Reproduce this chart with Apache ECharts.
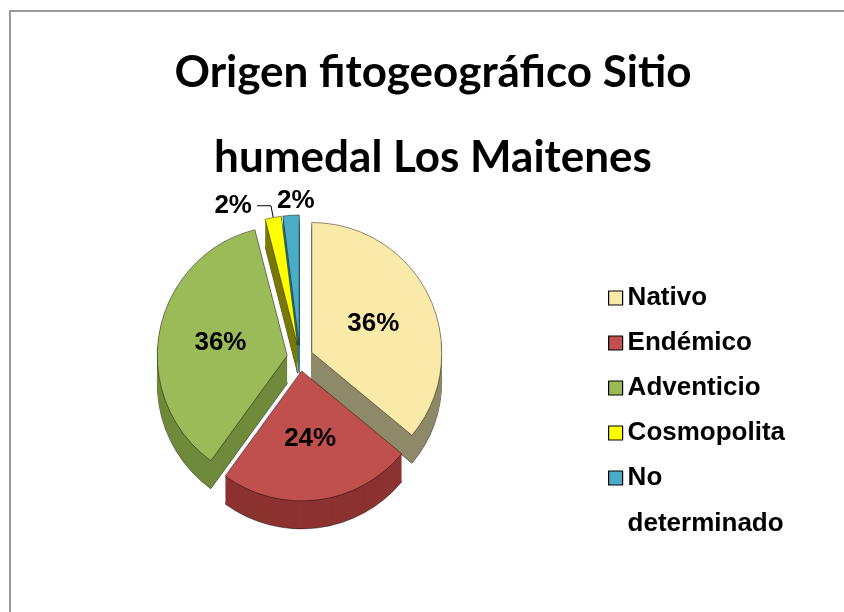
<!DOCTYPE html>
<html>
<head>
<meta charset="utf-8">
<script src="https://cdn.jsdelivr.net/npm/echarts@6/dist/echarts.min.js"></script>
<style>
  html, body { margin: 0; padding: 0; background: #fff; }
  #wrap { position: relative; width: 844px; height: 612px; overflow: hidden; }
  #frame { position: absolute; left: 9px; top: 10px; right: -10px; bottom: -10px;
           border-left: 2px solid #9a9a9a; border-top: 2px solid #9a9a9a; }
  #chart { position: absolute; left: 0; top: 0; width: 844px; height: 612px; }
</style>
</head>
<body>
<div id="wrap">
  <div id="frame"></div>
  <div id="chart"></div>
</div>
<script>
  // data (percent labels 36/24/36/2/2)
  const titleLines = ['Origen fitogeográfico Sitio', 'humedal Los Maitenes'];
  const categories = ['Nativo', 'Endémico', 'Adventicio', 'Cosmopolita', 'No determinado'];
  const counts = [18, 12, 18, 1, 1];

  const topColors = ['#F9EAAA', '#C0504D', '#9BBB59', '#FFFF00', '#4BACC6'];
  const sideColors = ['#8E8968', '#8C3230', '#6F8A3B', '#7A7A08', '#2D7B8F'];

  const cx = 300, cy = 358, radius = 130, depth = 28;
  const labelFont = { color: '#000', fontFamily: 'Liberation Sans, Arial', fontWeight: 'bold', fontSize: 26 };

  function sliceData(colors, withLabels) {
    return categories.map(function (name, i) {
      const item = { name: name, value: counts[i], selected: true, itemStyle: { color: colors[i] } };
      if (withLabels && i === 3) {
        item.label = { position: 'outside' };
        item.labelLine = { show: true, length: 12, length2: 14, lineStyle: { color: '#000', width: 1 } };
      } else if (withLabels && i === 4) {
        item.label = { position: 'outside' };
        item.labelLine = { show: false, length: 2, length2: 2 };
      }
      return item;
    });
  }

  const series = [];
  // top face
  series.push({
    type: 'pie',
    z: 3,
    center: [cx, cy],
    radius: [0, radius],
    startAngle: 90,
    clockwise: true,
    selectedMode: 'multiple',
    selectedOffset: 13,
    percentPrecision: 0,
    emphasis: { disabled: true },
    avoidLabelOverlap: false,
    itemStyle: { borderColor: 'rgba(0,0,0,0.55)', borderWidth: 0.8 },
    label: Object.assign({ show: true, position: 'inside', formatter: '{d}%' }, labelFont),
    labelLine: { show: false },
    labelLayout: function (p) {
      // the last small slice carries its label centred just above it
      if (p.dataIndex === 4) return { align: 'center', dx: 12, dy: -12 };
      return {};
    },
    data: sliceData(topColors, true)
  });
  // side walls: stacked copies shifted downward
  for (let d = depth; d >= 1; d -= 1) {
    series.push({
      type: 'pie',
      z: 2,
      silent: true,
      center: [cx, cy + d],
      radius: [0, radius],
      startAngle: 90,
      clockwise: true,
      selectedMode: 'multiple',
      selectedOffset: 13,
      emphasis: { disabled: true },
      itemStyle: d === depth ? { borderColor: 'rgba(0,0,0,0.6)', borderWidth: 0.8 } : {},
      label: { show: false },
      labelLine: { show: false },
      data: sliceData(sideColors, false)
    });
  }

  const legendText = Object.assign({}, labelFont, { lineHeight: 30 });
  const legendItems = categories.map(function (name, i) {
    return { name: name, itemStyle: { color: topColors[i], borderColor: '#000', borderWidth: 1.2 } };
  });

  const chart = echarts.init(document.getElementById('chart'));
  chart.setOption({
    animation: false,
    title: {
      text: titleLines.join('\n'),
      left: 433,
      top: 30,
      padding: 0,
      textAlign: 'center',
      textStyle: { fontFamily: 'Lato', fontWeight: 'bold', fontSize: 44, lineHeight: 85, color: '#000' }
    },
    legend: [{
      orient: 'vertical',
      left: 608,
      top: 283,
      padding: 0,
      itemWidth: 14,
      itemHeight: 14,
      itemGap: 15,
      icon: 'rect',
      selectedMode: false,
      textStyle: legendText,
      data: legendItems.slice(0, 4)
    }, {
      orient: 'vertical',
      left: 608,
      top: 409,
      padding: 0,
      itemWidth: 14,
      itemHeight: 14,
      icon: 'rect',
      selectedMode: false,
      formatter: function (name) { return '\nNo\ndeterminado'; },
      textStyle: Object.assign({}, legendText, { lineHeight: 46 }),
      data: legendItems.slice(4)
    }],
    series: series
  });
</script>
</body>
</html>
